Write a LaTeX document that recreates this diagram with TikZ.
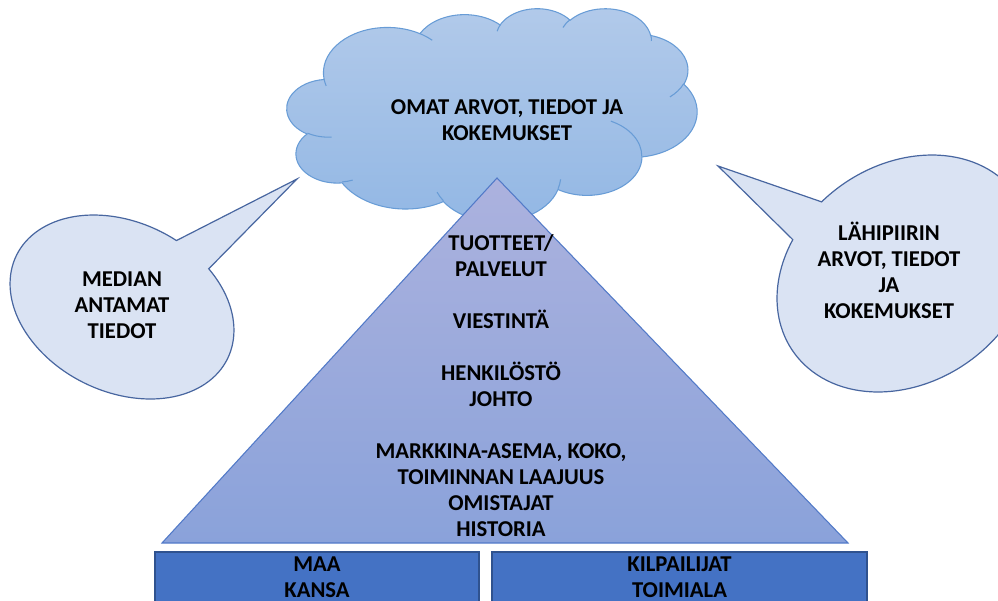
\documentclass[tikz,border=0pt]{standalone}
\usepackage{fontspec}
\setmainfont{Carlito}
\usetikzlibrary{positioning}
\definecolor{cloudtop}{RGB}{178,202,234}
\definecolor{cloudbot}{RGB}{146,183,228}
\definecolor{cloudline}{RGB}{104,156,214}
\definecolor{tritop}{RGB}{172,178,222}
\definecolor{tribot}{RGB}{138,162,218}
\definecolor{triline}{RGB}{82,122,200}
\definecolor{bubblefill}{RGB}{218,227,243}
\definecolor{bubbleline}{RGB}{72,102,160}
\definecolor{boxfill}{RGB}{68,114,196}
\definecolor{boxline}{RGB}{47,82,143}
\newcommand\lblfont{\fontsize{17}{19.5}\selectfont\bfseries}
% elliptic arc given by radii, start angle and sweep as seen from the centre
\newcommand\cloudarc[4]{%
  \pgfextra{%
    \pgfmathsetmacro\tstart{atan2((#1)*sin(#3),(#2)*cos(#3))}%
    \pgfmathsetmacro\tend{atan2((#1)*sin((#3)+(#4)),(#2)*cos((#3)+(#4)))}%
    \pgfmathsetmacro\tdelta{mod(\tend-\tstart+720,360)}%
  }
  arc[start angle=\tstart, delta angle=\tdelta, x radius=#1, y radius=#2]}
\tikzset{
  lbl/.style={font=\lblfont, align=center, inner sep=0pt, text=black},
  bubble/.style={draw=bubbleline, fill=bubblefill, line width=0.9pt},
  pyramid/.style={draw=triline, line width=0.8pt, top color=tritop, bottom color=tribot},
  cloudbody/.style={draw=cloudline, line width=0.8pt, top color=cloudtop, bottom color=cloudbot},
  crease/.style={draw=cloudline, line width=0.8pt},
  basebox/.style={rectangle, draw=boxline, fill=boxfill, line width=1.1pt,
                  align=center, font=\lblfont, inner sep=0pt, minimum height=37.5pt}
}
\begin{document}
\begin{tikzpicture}[x=0.75pt, y=-0.75pt]
  \useasboundingbox (0,0) rectangle (998,600);
  % cloud
  \begin{scope}[shift={(287,8)}, x=0.7118pt, y=-0.3698pt]
    \path[cloudbody] (39.00,143.70) \cloudarc{67.53}{91.90}{-190.4875}{123.7805}
      \cloudarc{53.33}{72.67}{-144.1024}{89.9452}
      \cloudarc{43.65}{59.45}{-145.8079}{99.7230}
      \cloudarc{48.57}{65.95}{-130.9861}{117.2417}
      \cloudarc{53.33}{72.73}{-78.7089}{109.0269}
      \cloudarc{67.75}{92.20}{-46.2673}{130.2690}
      \cloudarc{57.85}{78.67}{0.6250}{114.0333}
      \cloudarc{67.52}{92.15}{22.4516}{115.1726}
      \cloudarc{77.20}{105.43}{66.2426}{75.7110}
      \cloudarc{43.60}{59.18}{-274.9421}{146.7356}
      \cloudarc{43.45}{59.45}{-246.8285}{152.5189} -- cycle;
    \foreach \px/\py/\wr/\hr/\st/\sw in {46.93/261.77/43.45/59.45/86.7420/26.4295,
        69.28/348.99/43.60/59.18/73.6105/11.4475,
        164.78/390.90/67.52/92.15/137.6242/14.0811,
        288.27/347.51/67.52/92.15/6.4533/15.9984,
        341.29/229.54/57.85/78.67/-70.2924/70.9174,
        417.98/153.54/53.33/72.73/30.3180/27.7515,
        383.24/54.26/48.57/65.95/-13.7443/14.8589,
        290.78/39.52/48.57/65.95/-149.1815/18.1954,
        221.41/47.20/43.65/59.45/-163.4943/17.6864,
        140.00/51.92/67.53/91.90/-66.7070/12.3194,
        41.27/157.89/67.53/91.90/157.6544/11.8582}
      \path[crease] (\px,\py) \cloudarc{\wr}{\hr}{\st}{\sw};
  \end{scope}
  % pyramid
  \coordinate (apex) at (497,178);
  \coordinate (baseL) at (162,543);
  \coordinate (baseR) at (848,543);
  \path[pyramid] (baseL) -- (apex) -- (baseR) -- cycle;
  % callouts
  \coordinate (mtip) at (297,179);
  \begin{scope}[shift={(122,307)}, rotate=-26]
    \path[bubble] (-58.6:117.5 and 84.8)
      arc[start angle=-58.6, end angle=279.7, x radius=117.5, y radius=84.8]
      -- (mtip) -- cycle;
  \end{scope}
  \coordinate (ltip) at (718,166);
  \begin{scope}[shift={(905,273.5)}, rotate=34.9]
    \path[bubble] (258.4:136.4 and 108.7)
      arc[start angle=258.4, end angle=597.8, x radius=136.4, y radius=108.7]
      -- (ltip) -- cycle;
  \end{scope}
  % texts
  \node[lbl] (omat) at (507,120) {OMAT ARVOT, TIEDOT JA\\KOKEMUKSET};
  \node[lbl] (media) at (122,305) {MEDIAN\\ANTAMAT\\TIEDOT};
  \node[lbl] (lahi) at (889,270) {LÄHIPIIRIN\\ARVOT, TIEDOT\\JA\\KOKEMUKSET};
  \node[lbl] (yritys) at (501,386) {TUOTTEET/\\PALVELUT\\[\baselineskip]VIESTINTÄ\\[\baselineskip]HENKILÖSTÖ\\JOHTO\\[\baselineskip]MARKKINA-ASEMA, KOKO,\\TOIMINNAN LAAJUUS\\OMISTAJAT\\HISTORIA};
  % base boxes
  \node[basebox, minimum width=243pt] (maa) at (317,577) {MAA\\KANSA};
  \node[basebox, minimum width=281.25pt] (kilpailu) at (679.5,577) {KILPAILIJAT\\TOIMIALA};
\end{tikzpicture}
\end{document}
